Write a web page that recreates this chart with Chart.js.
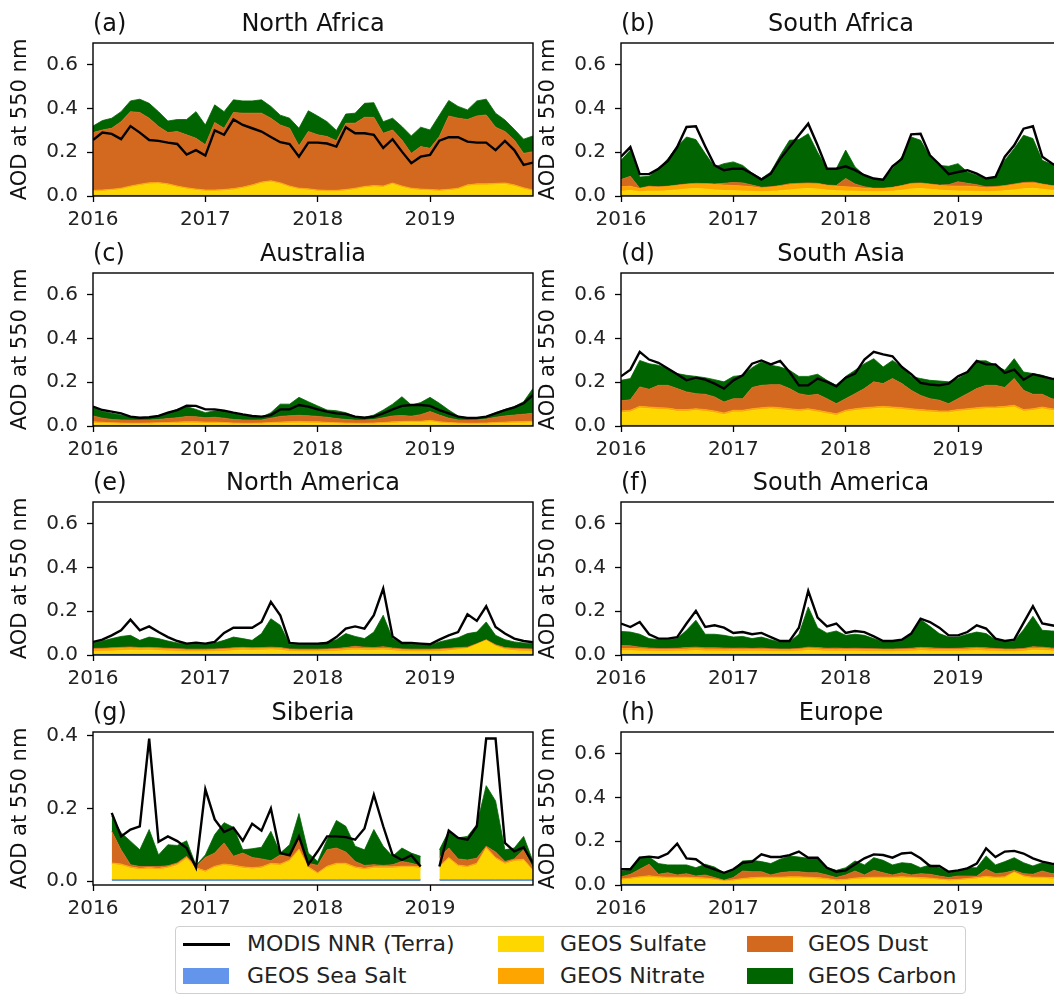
<!DOCTYPE html>
<html>
<head>
<meta charset="utf-8">
<script src="https://cdn.jsdelivr.net/npm/chart.js@4.4.1/dist/chart.umd.min.js"></script>
<style>
  html, body { margin: 0; padding: 0; overflow: hidden; background: #fff; }
  body { width: 1054px; height: 994px; position: relative; font-family: "DejaVu Sans", sans-serif; }
  .panel { position: absolute; }
  .lg-box { position: absolute; left: 175px; top: 926px; width: 789px; height: 66px; border: 1px solid #cfcfcf; border-radius: 4px; background: #fff; }
  .lg-patch { position: absolute; width: 46px; height: 16px; }
  .lg-line { position: absolute; width: 47px; height: 3px; background: #000; }
  .lg-text { position: absolute; font-size: 22px; line-height: 24px; color: #222; white-space: nowrap; }
</style>
</head>
<body>

<canvas id="pa" class="panel" width="545" height="236" style="left:0px;top:0px"></canvas>
<canvas id="pb" class="panel" width="545" height="236" style="left:528px;top:0px"></canvas>
<canvas id="pc" class="panel" width="545" height="236" style="left:0px;top:230px"></canvas>
<canvas id="pd" class="panel" width="545" height="236" style="left:528px;top:230px"></canvas>
<canvas id="pe" class="panel" width="545" height="236" style="left:0px;top:459px"></canvas>
<canvas id="pf" class="panel" width="545" height="236" style="left:528px;top:459px"></canvas>
<canvas id="pg" class="panel" width="545" height="236" style="left:0px;top:689px"></canvas>
<canvas id="ph" class="panel" width="545" height="236" style="left:528px;top:689px"></canvas>

<div class="lg-box"></div>
<div class="lg-line" style="left:183px;top:943px"></div>
<div class="lg-text" style="left:247px;top:932px">MODIS NNR (Terra)</div>
<div class="lg-patch" style="left:183px;top:968px;background:#6495ED"></div>
<div class="lg-text" style="left:247px;top:964px">GEOS Sea Salt</div>
<div class="lg-patch" style="left:498px;top:936px;background:#FFD700"></div>
<div class="lg-text" style="left:560px;top:932px">GEOS Sulfate</div>
<div class="lg-patch" style="left:498px;top:968px;background:#FFA500"></div>
<div class="lg-text" style="left:560px;top:964px">GEOS Nitrate</div>
<div class="lg-patch" style="left:747px;top:936px;background:#D2691E"></div>
<div class="lg-text" style="left:808px;top:932px">GEOS Dust</div>
<div class="lg-patch" style="left:747px;top:968px;background:#006400"></div>
<div class="lg-text" style="left:808px;top:964px">GEOS Carbon</div>

<script>
// monthly values Jan 2016 .. Dec 2019 (AOD at 550 nm)
// GEOS arrays hold the upper edge of each stacked layer
const monthIndex = Array.from({ length: 48 }, (_, i) => i);
const yearTicks = [0, 12, 24, 36];
const yearLabels = ['2016', '2017', '2018', '2019'];
const aodTicks = [0, 0.2, 0.4, 0.6];
const siberiaTicks = [0, 0.2, 0.4];

const seaSaltTop = [
  0.003, 0.003, 0.003, 0.003, 0.003, 0.003, 0.003, 0.003, 0.003, 0.003, 0.003, 0.003,
  0.003, 0.003, 0.003, 0.003, 0.003, 0.003, 0.003, 0.003, 0.003, 0.003, 0.003, 0.003,
  0.003, 0.003, 0.003, 0.003, 0.003, 0.003, 0.003, 0.003, 0.003, 0.003, 0.003, 0.003,
  0.003, 0.003, 0.003, 0.003, 0.003, 0.003, 0.003, 0.003, 0.003, 0.003, 0.003, 0.003];

// (a) North Africa
const naModis = [
  0.256, 0.290, 0.284, 0.260, 0.320, 0.290, 0.256, 0.252, 0.244, 0.238, 0.190, 0.210,
  0.185, 0.300, 0.280, 0.350, 0.325, 0.310, 0.295, 0.270, 0.246, 0.238, 0.180, 0.244,
  0.244, 0.240, 0.226, 0.315, 0.287, 0.287, 0.280, 0.220, 0.260, 0.203, 0.150, 0.180,
  0.188, 0.253, 0.269, 0.269, 0.249, 0.244, 0.244, 0.210, 0.252, 0.210, 0.142, 0.153];
const naCarbon = [
  0.320, 0.345, 0.356, 0.386, 0.435, 0.443, 0.424, 0.386, 0.343, 0.350, 0.350, 0.386,
  0.325, 0.417, 0.386, 0.440, 0.435, 0.435, 0.440, 0.410, 0.370, 0.356, 0.310, 0.390,
  0.366, 0.340, 0.300, 0.375, 0.379, 0.424, 0.427, 0.340, 0.356, 0.318, 0.275, 0.315,
  0.302, 0.370, 0.437, 0.410, 0.394, 0.435, 0.443, 0.379, 0.348, 0.305, 0.260, 0.275];
const naDust = [
  0.290, 0.302, 0.310, 0.340, 0.386, 0.382, 0.356, 0.318, 0.290, 0.295, 0.280, 0.264,
  0.234, 0.336, 0.310, 0.382, 0.379, 0.379, 0.379, 0.356, 0.325, 0.310, 0.229, 0.295,
  0.280, 0.272, 0.253, 0.333, 0.333, 0.360, 0.360, 0.287, 0.302, 0.256, 0.195, 0.226,
  0.218, 0.272, 0.366, 0.356, 0.350, 0.366, 0.371, 0.315, 0.295, 0.256, 0.195, 0.203];
const naNitrate = [
  0.026, 0.028, 0.031, 0.036, 0.046, 0.054, 0.061, 0.062, 0.056, 0.046, 0.038, 0.032,
  0.028, 0.028, 0.030, 0.034, 0.041, 0.051, 0.064, 0.070, 0.061, 0.046, 0.036, 0.033,
  0.028, 0.026, 0.026, 0.030, 0.036, 0.044, 0.048, 0.046, 0.060, 0.046, 0.036, 0.032,
  0.030, 0.028, 0.031, 0.036, 0.051, 0.056, 0.056, 0.058, 0.060, 0.051, 0.038, 0.028];
const naSulfate = [
  0.020, 0.022, 0.025, 0.030, 0.040, 0.048, 0.055, 0.056, 0.050, 0.040, 0.032, 0.026,
  0.022, 0.022, 0.024, 0.028, 0.035, 0.045, 0.058, 0.064, 0.055, 0.040, 0.030, 0.027,
  0.022, 0.020, 0.020, 0.024, 0.030, 0.038, 0.042, 0.040, 0.054, 0.040, 0.030, 0.026,
  0.024, 0.022, 0.025, 0.030, 0.045, 0.050, 0.050, 0.052, 0.054, 0.045, 0.032, 0.022];

// (b) South Africa
const saModis = [
  0.180, 0.224, 0.100, 0.100, 0.125, 0.160, 0.224, 0.316, 0.319, 0.227, 0.140, 0.118,
  0.125, 0.125, 0.102, 0.075, 0.102, 0.170, 0.224, 0.278, 0.331, 0.232, 0.125, 0.125,
  0.136, 0.118, 0.095, 0.080, 0.075, 0.136, 0.170, 0.282, 0.285, 0.186, 0.145, 0.100,
  0.110, 0.118, 0.102, 0.080, 0.087, 0.180, 0.232, 0.308, 0.319, 0.180, 0.150, 0.125];
const saCarbon = [
  0.163, 0.210, 0.087, 0.090, 0.125, 0.170, 0.227, 0.270, 0.258, 0.194, 0.133, 0.148,
  0.156, 0.140, 0.105, 0.080, 0.110, 0.186, 0.255, 0.258, 0.285, 0.200, 0.125, 0.125,
  0.210, 0.133, 0.095, 0.080, 0.075, 0.125, 0.180, 0.270, 0.255, 0.180, 0.140, 0.136,
  0.148, 0.110, 0.095, 0.075, 0.087, 0.163, 0.217, 0.278, 0.263, 0.163, 0.145, 0.120];
const saDust = [
  0.075, 0.090, 0.036, 0.045, 0.042, 0.045, 0.050, 0.055, 0.058, 0.057, 0.055, 0.058,
  0.062, 0.060, 0.050, 0.040, 0.042, 0.048, 0.056, 0.058, 0.060, 0.058, 0.050, 0.048,
  0.080, 0.055, 0.042, 0.036, 0.036, 0.040, 0.048, 0.058, 0.060, 0.055, 0.050, 0.052,
  0.065, 0.058, 0.052, 0.042, 0.044, 0.048, 0.055, 0.062, 0.064, 0.055, 0.048, 0.045];
const saNitrate = [
  0.042, 0.045, 0.034, 0.042, 0.040, 0.043, 0.048, 0.053, 0.055, 0.055, 0.053, 0.050,
  0.048, 0.046, 0.042, 0.037, 0.040, 0.045, 0.052, 0.055, 0.056, 0.055, 0.048, 0.045,
  0.042, 0.040, 0.036, 0.034, 0.034, 0.038, 0.046, 0.055, 0.057, 0.053, 0.048, 0.046,
  0.045, 0.045, 0.042, 0.038, 0.040, 0.045, 0.052, 0.058, 0.060, 0.053, 0.046, 0.042];
const saSulfate = [
  0.022, 0.025, 0.020, 0.022, 0.022, 0.024, 0.028, 0.032, 0.034, 0.032, 0.028, 0.025,
  0.024, 0.023, 0.021, 0.020, 0.021, 0.024, 0.028, 0.032, 0.034, 0.032, 0.027, 0.024,
  0.023, 0.022, 0.020, 0.019, 0.020, 0.022, 0.026, 0.032, 0.034, 0.031, 0.027, 0.024,
  0.023, 0.022, 0.021, 0.020, 0.021, 0.024, 0.028, 0.033, 0.035, 0.031, 0.026, 0.023];

// (c) Australia
const auModis = [
  0.089, 0.073, 0.066, 0.058, 0.043, 0.038, 0.040, 0.046, 0.061, 0.073, 0.093, 0.092,
  0.076, 0.076, 0.070, 0.061, 0.053, 0.046, 0.043, 0.050, 0.076, 0.076, 0.096, 0.089,
  0.076, 0.066, 0.058, 0.055, 0.043, 0.038, 0.043, 0.058, 0.076, 0.092, 0.096, 0.096,
  0.092, 0.073, 0.058, 0.043, 0.037, 0.037, 0.043, 0.058, 0.073, 0.085, 0.104, 0.142];
const auCarbon = [
  0.085, 0.066, 0.058, 0.050, 0.040, 0.035, 0.037, 0.046, 0.061, 0.076, 0.089, 0.076,
  0.061, 0.070, 0.066, 0.058, 0.050, 0.043, 0.040, 0.061, 0.100, 0.100, 0.131, 0.111,
  0.092, 0.073, 0.070, 0.061, 0.043, 0.040, 0.050, 0.073, 0.100, 0.134, 0.096, 0.107,
  0.131, 0.104, 0.073, 0.046, 0.037, 0.037, 0.043, 0.061, 0.076, 0.089, 0.111, 0.172];
const auDust = [
  0.046, 0.036, 0.030, 0.028, 0.027, 0.027, 0.028, 0.030, 0.034, 0.038, 0.043, 0.042,
  0.038, 0.040, 0.036, 0.030, 0.028, 0.027, 0.028, 0.036, 0.044, 0.047, 0.049, 0.047,
  0.044, 0.040, 0.034, 0.030, 0.027, 0.027, 0.030, 0.038, 0.046, 0.048, 0.045, 0.052,
  0.066, 0.050, 0.036, 0.028, 0.027, 0.028, 0.032, 0.040, 0.046, 0.050, 0.054, 0.058];
const auNitrate = [
  0.020, 0.017, 0.015, 0.014, 0.013, 0.013, 0.014, 0.015, 0.016, 0.018, 0.020, 0.019,
  0.018, 0.018, 0.016, 0.014, 0.013, 0.013, 0.014, 0.016, 0.018, 0.020, 0.021, 0.020,
  0.019, 0.017, 0.015, 0.014, 0.013, 0.013, 0.014, 0.016, 0.019, 0.021, 0.022, 0.022,
  0.026, 0.020, 0.016, 0.014, 0.013, 0.013, 0.014, 0.016, 0.018, 0.020, 0.021, 0.022];
const auSulfate = [
  0.013, 0.011, 0.010, 0.009, 0.008, 0.008, 0.009, 0.010, 0.011, 0.012, 0.013, 0.013,
  0.012, 0.012, 0.011, 0.009, 0.008, 0.008, 0.009, 0.010, 0.012, 0.013, 0.014, 0.013,
  0.013, 0.011, 0.010, 0.009, 0.008, 0.008, 0.009, 0.011, 0.013, 0.015, 0.016, 0.016,
  0.020, 0.014, 0.010, 0.009, 0.008, 0.008, 0.009, 0.010, 0.012, 0.013, 0.014, 0.015];

// (d) South Asia
const asModis = [
  0.227, 0.258, 0.339, 0.304, 0.289, 0.263, 0.237, 0.209, 0.221, 0.212, 0.194, 0.171,
  0.209, 0.232, 0.285, 0.300, 0.282, 0.298, 0.247, 0.186, 0.186, 0.217, 0.202, 0.182,
  0.221, 0.240, 0.304, 0.339, 0.328, 0.319, 0.270, 0.237, 0.197, 0.190, 0.186, 0.194,
  0.227, 0.247, 0.298, 0.282, 0.282, 0.243, 0.258, 0.212, 0.237, 0.227, 0.217, 0.209];
const asCarbon = [
  0.209, 0.217, 0.300, 0.285, 0.278, 0.263, 0.240, 0.232, 0.227, 0.221, 0.212, 0.202,
  0.227, 0.232, 0.267, 0.293, 0.278, 0.270, 0.255, 0.227, 0.227, 0.237, 0.209, 0.186,
  0.227, 0.255, 0.285, 0.308, 0.270, 0.300, 0.270, 0.227, 0.217, 0.209, 0.206, 0.202,
  0.217, 0.243, 0.298, 0.298, 0.278, 0.255, 0.308, 0.247, 0.240, 0.232, 0.217, 0.209];
const asDust = [
  0.115, 0.120, 0.179, 0.168, 0.186, 0.186, 0.171, 0.156, 0.148, 0.145, 0.133, 0.110,
  0.125, 0.125, 0.176, 0.186, 0.189, 0.189, 0.171, 0.148, 0.140, 0.145, 0.125, 0.102,
  0.125, 0.148, 0.171, 0.202, 0.194, 0.217, 0.194, 0.163, 0.140, 0.125, 0.118, 0.102,
  0.125, 0.148, 0.171, 0.186, 0.186, 0.176, 0.217, 0.163, 0.145, 0.145, 0.125, 0.118];
const asNitrate = [
  0.069, 0.072, 0.090, 0.087, 0.084, 0.082, 0.075, 0.075, 0.079, 0.075, 0.069, 0.060,
  0.072, 0.072, 0.079, 0.084, 0.087, 0.084, 0.079, 0.075, 0.079, 0.072, 0.064, 0.056,
  0.072, 0.079, 0.084, 0.087, 0.090, 0.087, 0.084, 0.079, 0.075, 0.072, 0.069, 0.069,
  0.075, 0.079, 0.084, 0.087, 0.087, 0.090, 0.095, 0.075, 0.079, 0.087, 0.079, 0.075];
const asSulfate = [
  0.061, 0.064, 0.082, 0.079, 0.076, 0.074, 0.067, 0.067, 0.071, 0.067, 0.061, 0.052,
  0.064, 0.064, 0.071, 0.076, 0.079, 0.076, 0.071, 0.067, 0.071, 0.064, 0.056, 0.048,
  0.064, 0.071, 0.076, 0.079, 0.082, 0.079, 0.076, 0.071, 0.067, 0.064, 0.061, 0.061,
  0.067, 0.071, 0.076, 0.079, 0.079, 0.082, 0.087, 0.067, 0.071, 0.079, 0.071, 0.067];

// (e) North America
const nmModis = [
  0.060, 0.070, 0.090, 0.113, 0.162, 0.113, 0.131, 0.105, 0.082, 0.064, 0.052, 0.056,
  0.052, 0.060, 0.101, 0.125, 0.125, 0.125, 0.151, 0.243, 0.182, 0.055, 0.052, 0.052,
  0.052, 0.055, 0.082, 0.121, 0.131, 0.121, 0.182, 0.304, 0.085, 0.055, 0.055, 0.052,
  0.049, 0.070, 0.090, 0.105, 0.186, 0.156, 0.223, 0.128, 0.098, 0.075, 0.064, 0.058];
const nmCarbon = [
  0.055, 0.064, 0.075, 0.085, 0.090, 0.067, 0.082, 0.075, 0.064, 0.055, 0.049, 0.049,
  0.049, 0.055, 0.067, 0.082, 0.075, 0.067, 0.098, 0.166, 0.136, 0.049, 0.049, 0.049,
  0.052, 0.060, 0.070, 0.098, 0.085, 0.075, 0.105, 0.182, 0.075, 0.052, 0.049, 0.049,
  0.046, 0.060, 0.070, 0.079, 0.098, 0.105, 0.151, 0.090, 0.070, 0.060, 0.055, 0.052];
const nmDust = [
  0.030, 0.031, 0.033, 0.035, 0.037, 0.034, 0.035, 0.033, 0.031, 0.029, 0.027, 0.027,
  0.027, 0.028, 0.030, 0.033, 0.035, 0.033, 0.034, 0.036, 0.034, 0.028, 0.027, 0.027,
  0.027, 0.028, 0.030, 0.034, 0.040, 0.036, 0.034, 0.038, 0.032, 0.028, 0.027, 0.027,
  0.027, 0.028, 0.031, 0.034, 0.036, 0.052, 0.070, 0.047, 0.034, 0.031, 0.029, 0.028];
const nmNitrate = [
  0.026, 0.027, 0.029, 0.031, 0.033, 0.030, 0.031, 0.029, 0.027, 0.025, 0.023, 0.023,
  0.023, 0.024, 0.026, 0.029, 0.031, 0.029, 0.030, 0.031, 0.030, 0.024, 0.023, 0.023,
  0.023, 0.024, 0.026, 0.029, 0.032, 0.030, 0.029, 0.031, 0.028, 0.024, 0.023, 0.023,
  0.023, 0.024, 0.027, 0.030, 0.032, 0.050, 0.068, 0.044, 0.030, 0.027, 0.025, 0.024];
const nmSulfate = [
  0.016, 0.017, 0.018, 0.020, 0.022, 0.021, 0.022, 0.020, 0.018, 0.016, 0.015, 0.015,
  0.015, 0.016, 0.017, 0.020, 0.022, 0.021, 0.022, 0.024, 0.022, 0.016, 0.015, 0.015,
  0.015, 0.016, 0.017, 0.020, 0.023, 0.021, 0.021, 0.023, 0.019, 0.016, 0.015, 0.015,
  0.015, 0.016, 0.019, 0.024, 0.030, 0.048, 0.066, 0.040, 0.025, 0.019, 0.017, 0.016];

// (f) South America
const smModis = [
  0.144, 0.128, 0.151, 0.095, 0.075, 0.075, 0.082, 0.144, 0.202, 0.128, 0.136, 0.125,
  0.101, 0.105, 0.095, 0.101, 0.082, 0.064, 0.064, 0.125, 0.293, 0.171, 0.131, 0.144,
  0.101, 0.110, 0.105, 0.085, 0.064, 0.064, 0.070, 0.098, 0.166, 0.151, 0.125, 0.090,
  0.090, 0.105, 0.136, 0.121, 0.075, 0.064, 0.070, 0.147, 0.223, 0.144, 0.136, 0.128];
const smCarbon = [
  0.108, 0.105, 0.095, 0.075, 0.070, 0.070, 0.075, 0.113, 0.159, 0.095, 0.095, 0.090,
  0.082, 0.085, 0.075, 0.082, 0.070, 0.060, 0.060, 0.095, 0.220, 0.125, 0.100, 0.110,
  0.090, 0.095, 0.090, 0.075, 0.060, 0.060, 0.070, 0.095, 0.162, 0.131, 0.098, 0.082,
  0.082, 0.095, 0.105, 0.098, 0.070, 0.060, 0.064, 0.116, 0.177, 0.113, 0.110, 0.108];
const smDust = [
  0.044, 0.042, 0.036, 0.032, 0.030, 0.030, 0.031, 0.034, 0.036, 0.033, 0.033, 0.032,
  0.031, 0.032, 0.030, 0.032, 0.029, 0.028, 0.028, 0.030, 0.036, 0.034, 0.031, 0.032,
  0.030, 0.031, 0.030, 0.029, 0.028, 0.028, 0.029, 0.031, 0.035, 0.033, 0.031, 0.030,
  0.031, 0.033, 0.035, 0.033, 0.030, 0.028, 0.028, 0.030, 0.038, 0.036, 0.032, 0.031];
const smNitrate = [
  0.030, 0.030, 0.029, 0.027, 0.025, 0.025, 0.026, 0.028, 0.030, 0.028, 0.028, 0.027,
  0.026, 0.027, 0.026, 0.027, 0.025, 0.024, 0.024, 0.026, 0.031, 0.029, 0.026, 0.027,
  0.026, 0.026, 0.025, 0.025, 0.024, 0.024, 0.025, 0.026, 0.030, 0.028, 0.026, 0.026,
  0.026, 0.028, 0.030, 0.028, 0.026, 0.024, 0.024, 0.026, 0.032, 0.031, 0.027, 0.026];
const smSulfate = [
  0.019, 0.019, 0.018, 0.017, 0.016, 0.016, 0.017, 0.018, 0.020, 0.018, 0.018, 0.017,
  0.017, 0.017, 0.017, 0.017, 0.016, 0.015, 0.015, 0.017, 0.021, 0.019, 0.017, 0.017,
  0.017, 0.017, 0.016, 0.016, 0.015, 0.015, 0.016, 0.017, 0.020, 0.018, 0.017, 0.017,
  0.017, 0.018, 0.020, 0.018, 0.017, 0.015, 0.015, 0.017, 0.022, 0.021, 0.018, 0.017];

// (g) Siberia (no data Jan-Feb 2016 and Jan 2019)
const siModis = [
  null, null, 0.188, 0.123, 0.142, 0.151, 0.393, 0.108, 0.123, 0.110, 0.091, 0.037,
  0.253, 0.170, 0.135, 0.147, 0.111, 0.158, 0.139, 0.200, 0.077, 0.071, 0.123, 0.046,
  0.082, 0.123, 0.123, 0.121, 0.114, 0.145, 0.238, 0.151, 0.072, 0.058, 0.071, 0.040,
  null, 0.040, 0.139, 0.119, 0.114, 0.151, 0.393, 0.393, 0.105, 0.082, 0.093, 0.049];
const siCarbon = [
  null, null, 0.179, 0.133, 0.110, 0.086, 0.142, 0.072, 0.100, 0.098, 0.111, 0.043,
  0.072, 0.128, 0.161, 0.148, 0.086, 0.089, 0.093, 0.137, 0.077, 0.100, 0.186, 0.077,
  0.054, 0.114, 0.167, 0.151, 0.096, 0.086, 0.142, 0.096, 0.068, 0.091, 0.077, 0.068,
  null, 0.086, 0.137, 0.119, 0.123, 0.156, 0.263, 0.221, 0.086, 0.091, 0.123, 0.054];
const siDust = [
  null, null, 0.137, 0.086, 0.045, 0.040, 0.040, 0.040, 0.042, 0.050, 0.068, 0.040,
  0.065, 0.077, 0.105, 0.068, 0.077, 0.065, 0.061, 0.056, 0.072, 0.068, 0.114, 0.049,
  0.043, 0.086, 0.091, 0.080, 0.054, 0.043, 0.045, 0.043, 0.045, 0.054, 0.049, 0.042,
  null, 0.065, 0.091, 0.061, 0.058, 0.063, 0.096, 0.080, 0.054, 0.061, 0.086, 0.035];
const siNitrate = [
  null, null, 0.050, 0.047, 0.039, 0.035, 0.037, 0.035, 0.039, 0.047, 0.065, 0.037,
  0.028, 0.041, 0.047, 0.044, 0.039, 0.037, 0.039, 0.049, 0.047, 0.058, 0.088, 0.039,
  0.023, 0.041, 0.049, 0.049, 0.039, 0.035, 0.039, 0.039, 0.039, 0.041, 0.041, 0.039,
  null, 0.041, 0.065, 0.044, 0.041, 0.049, 0.093, 0.065, 0.050, 0.058, 0.060, 0.030];
const siSulfate = [
  null, null, 0.046, 0.043, 0.035, 0.031, 0.033, 0.031, 0.035, 0.043, 0.061, 0.033,
  0.024, 0.037, 0.043, 0.040, 0.035, 0.033, 0.035, 0.045, 0.043, 0.054, 0.084, 0.035,
  0.019, 0.037, 0.045, 0.045, 0.035, 0.031, 0.035, 0.035, 0.035, 0.037, 0.037, 0.035,
  null, 0.037, 0.061, 0.040, 0.037, 0.045, 0.089, 0.061, 0.046, 0.054, 0.056, 0.026];
const siSeaSalt = [
  null, null, 0.004, 0.004, 0.004, 0.004, 0.004, 0.004, 0.004, 0.004, 0.004, 0.004,
  0.004, 0.004, 0.004, 0.004, 0.004, 0.004, 0.004, 0.004, 0.004, 0.004, 0.004, 0.004,
  0.004, 0.004, 0.004, 0.004, 0.004, 0.004, 0.004, 0.004, 0.004, 0.004, 0.004, 0.004,
  null, 0.004, 0.004, 0.004, 0.004, 0.004, 0.004, 0.004, 0.004, 0.004, 0.004, 0.004];

// (h) Europe
const euModis = [
  0.072, 0.072, 0.125, 0.130, 0.125, 0.144, 0.189, 0.122, 0.118, 0.087, 0.072, 0.056,
  0.072, 0.102, 0.107, 0.140, 0.128, 0.128, 0.137, 0.153, 0.125, 0.125, 0.079, 0.061,
  0.067, 0.095, 0.122, 0.140, 0.137, 0.125, 0.144, 0.148, 0.122, 0.087, 0.087, 0.061,
  0.067, 0.076, 0.098, 0.168, 0.128, 0.153, 0.156, 0.144, 0.122, 0.107, 0.098, 0.092];
const euCarbon = [
  0.064, 0.067, 0.122, 0.128, 0.098, 0.092, 0.092, 0.092, 0.079, 0.095, 0.082, 0.056,
  0.072, 0.110, 0.113, 0.107, 0.098, 0.118, 0.133, 0.128, 0.122, 0.125, 0.079, 0.067,
  0.079, 0.110, 0.092, 0.125, 0.113, 0.092, 0.102, 0.098, 0.079, 0.092, 0.079, 0.056,
  0.064, 0.079, 0.079, 0.133, 0.092, 0.107, 0.125, 0.102, 0.087, 0.102, 0.095, 0.092];
const euDust = [
  0.037, 0.049, 0.072, 0.095, 0.049, 0.056, 0.046, 0.052, 0.041, 0.046, 0.034, 0.022,
  0.034, 0.064, 0.061, 0.061, 0.046, 0.056, 0.061, 0.061, 0.056, 0.056, 0.046, 0.034,
  0.046, 0.064, 0.046, 0.067, 0.056, 0.046, 0.056, 0.046, 0.052, 0.049, 0.041, 0.034,
  0.041, 0.041, 0.040, 0.072, 0.052, 0.056, 0.066, 0.052, 0.049, 0.064, 0.052, 0.056];
const euNitrate = [
  0.028, 0.032, 0.038, 0.042, 0.038, 0.036, 0.036, 0.036, 0.034, 0.032, 0.028, 0.020,
  0.024, 0.030, 0.034, 0.036, 0.036, 0.036, 0.038, 0.038, 0.036, 0.034, 0.030, 0.024,
  0.026, 0.032, 0.034, 0.036, 0.036, 0.036, 0.038, 0.036, 0.034, 0.032, 0.028, 0.024,
  0.026, 0.030, 0.034, 0.040, 0.036, 0.038, 0.060, 0.042, 0.036, 0.036, 0.034, 0.032];
const euSulfate = [
  0.022, 0.026, 0.032, 0.036, 0.032, 0.030, 0.030, 0.030, 0.028, 0.026, 0.022, 0.016,
  0.018, 0.024, 0.028, 0.030, 0.030, 0.030, 0.032, 0.032, 0.030, 0.028, 0.024, 0.018,
  0.020, 0.026, 0.028, 0.030, 0.030, 0.030, 0.032, 0.030, 0.028, 0.026, 0.022, 0.018,
  0.020, 0.024, 0.028, 0.034, 0.030, 0.032, 0.056, 0.036, 0.030, 0.030, 0.028, 0.026];

const colors = {
  seaSalt: '#6495ED', sulfate: '#FFD700', nitrate: '#FFA500', dust: '#D2691E', carbon: '#006400'
};
const FONT = '"DejaVu Sans", sans-serif';

const panels = [
  { id: 'pa', tag: '(a)', name: 'North Africa', modis: naModis, salt: seaSaltTop, sulfate: naSulfate, nitrate: naNitrate, dust: naDust, carbon: naCarbon },
  { id: 'pb', tag: '(b)', name: 'South Africa', modis: saModis, salt: seaSaltTop, sulfate: saSulfate, nitrate: saNitrate, dust: saDust, carbon: saCarbon },
  { id: 'pc', tag: '(c)', name: 'Australia', modis: auModis, salt: seaSaltTop, sulfate: auSulfate, nitrate: auNitrate, dust: auDust, carbon: auCarbon },
  { id: 'pd', tag: '(d)', name: 'South Asia', modis: asModis, salt: seaSaltTop, sulfate: asSulfate, nitrate: asNitrate, dust: asDust, carbon: asCarbon },
  { id: 'pe', tag: '(e)', name: 'North America', modis: nmModis, salt: seaSaltTop, sulfate: nmSulfate, nitrate: nmNitrate, dust: nmDust, carbon: nmCarbon },
  { id: 'pf', tag: '(f)', name: 'South America', modis: smModis, salt: seaSaltTop, sulfate: smSulfate, nitrate: smNitrate, dust: smDust, carbon: smCarbon },
  { id: 'pg', tag: '(g)', name: 'Siberia', modis: siModis, salt: siSeaSalt, sulfate: siSulfate, nitrate: siNitrate, dust: siDust, carbon: siCarbon, yMin: -0.011, yMax: 0.411, yTicks: siberiaTicks },
  { id: 'ph', tag: '(h)', name: 'Europe', modis: euModis, salt: seaSaltTop, sulfate: euSulfate, nitrate: euNitrate, dust: euDust, carbon: euCarbon }
];

// "(a)  North Africa" above each axes box, plus the full frame
const panelDecor = {
  id: 'panelDecor',
  afterDraw(chart, args, opts) {
    const { ctx, chartArea: a } = chart;
    ctx.save();
    ctx.strokeStyle = '#000';
    ctx.lineWidth = 1.4;
    ctx.strokeRect(a.left, a.top, a.right - a.left, a.bottom - a.top);
    ctx.fillStyle = '#111';
    ctx.font = '24px ' + FONT;
    ctx.textBaseline = 'alphabetic';
    ctx.textAlign = 'left';
    ctx.fillText(opts.tag, a.left, a.top - 12);
    ctx.textAlign = 'center';
    ctx.fillText(opts.name, (a.left + a.right) / 2, a.top - 12);
    ctx.restore();
  }
};

function area(label, data, color, target) {
  return {
    label: label,
    data: data,
    backgroundColor: color,
    borderColor: color,
    borderWidth: 0.8,
    pointRadius: 0,
    tension: 0,
    fill: target
  };
}

panels.forEach(function(p) {
  const yTicks = p.yTicks || aodTicks;
  new Chart(document.getElementById(p.id), {
    type: 'line',
    data: {
      labels: monthIndex,
      datasets: [
        { label: 'MODIS NNR (Terra)', data: p.modis, borderColor: '#000', borderWidth: 2.4,
          pointRadius: 0, tension: 0, fill: false },
        area('GEOS Sea Salt', p.salt, colors.seaSalt, 'origin'),
        area('GEOS Sulfate', p.sulfate, colors.sulfate, 1),
        area('GEOS Nitrate', p.nitrate, colors.nitrate, 2),
        area('GEOS Dust', p.dust, colors.dust, 3),
        area('GEOS Carbon', p.carbon, colors.carbon, 4)
      ]
    },
    options: {
      responsive: false,
      animation: false,
      layout: { padding: { top: 43, right: 12, left: 0, bottom: 0 } },
      plugins: {
        legend: { display: false },
        tooltip: { enabled: false },
        panelDecor: { tag: p.tag, name: p.name }
      },
      scales: {
        x: {
          type: 'linear',
          min: 0,
          max: 47,
          afterBuildTicks: function(scale) { scale.ticks = yearTicks.map(v => ({ value: v })); },
          afterFit: function(scale) { scale.height = 40; },
          ticks: {
            autoSkip: false,
            maxRotation: 0,
            padding: 6,
            color: '#222',
            font: { family: FONT, size: 20 },
            callback: function(v, i) { return yearLabels[i]; }
          },
          grid: { drawOnChartArea: false, drawTicks: true, tickLength: 6, tickWidth: 1.3, tickColor: '#000' },
          border: { display: false }
        },
        y: {
          min: p.yMin !== undefined ? p.yMin : 0,
          max: p.yMax !== undefined ? p.yMax : 0.7,
          afterBuildTicks: function(scale) { scale.ticks = yTicks.map(v => ({ value: v })); },
          afterFit: function(scale) { scale.width = 93; },
          ticks: {
            padding: 9,
            color: '#222',
            font: { family: FONT, size: 20 },
            callback: function(v) { return v.toFixed(1); }
          },
          grid: { drawOnChartArea: false, drawTicks: true, tickLength: 6, tickWidth: 1.3, tickColor: '#000' },
          border: { display: false },
          title: {
            display: true,
            text: 'AOD at 550 nm',
            color: '#111',
            font: { family: FONT, size: 21 },
            padding: { top: 8, bottom: 0 }
          }
        }
      }
    },
    plugins: [panelDecor]
  });
});
</script>
</body>
</html>
